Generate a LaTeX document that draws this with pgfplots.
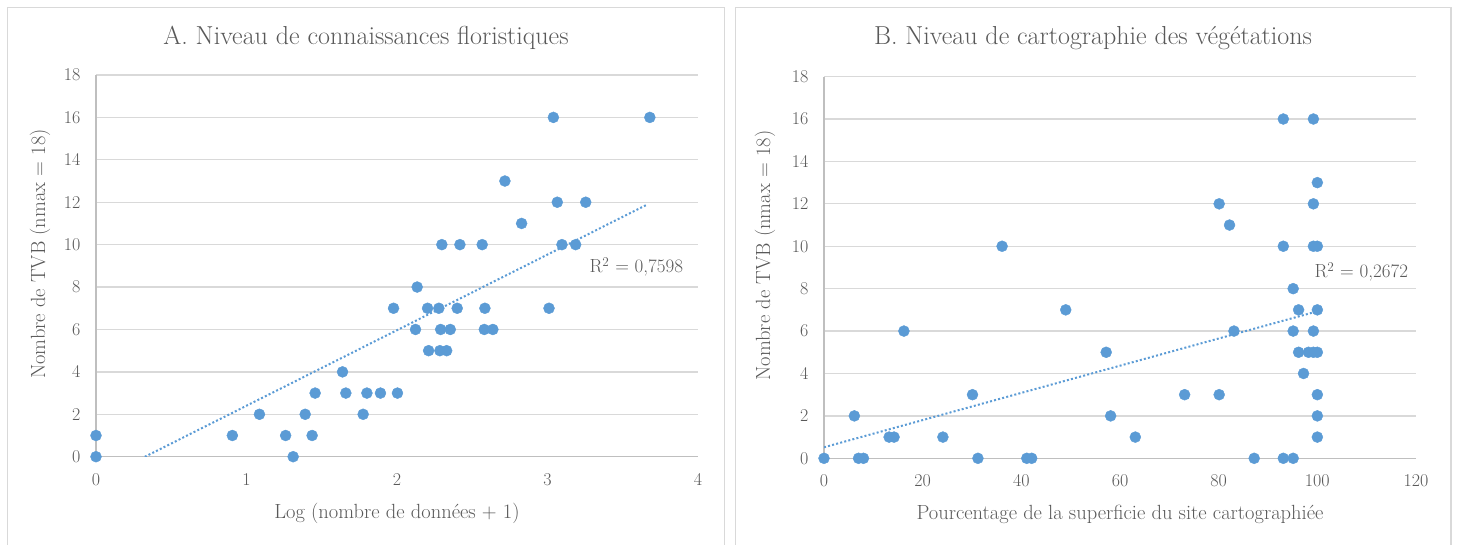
\documentclass[border=0pt]{standalone}
\usepackage{fontspec}
\usepackage{pgfplots}
\pgfplotsset{compat=1.18}
\definecolor{dotc}{HTML}{5B9BD5}
\definecolor{txt}{HTML}{595959}
\definecolor{gridc}{HTML}{D9D9D9}
\definecolor{axc}{HTML}{BFBFBF}
\definecolor{boxc}{HTML}{D9D9D9}
\pgfplotsset{
  panel/.style={
    scale only axis,
    anchor=origin,
    ymin=0, ymax=18, ytick={0,2,...,18},
    axis lines*=left,
    axis line style={axc, line width=1.5pt, -},
    major tick length=0pt,
    ymajorgrids, grid style={gridc, line width=1.3pt},
    tick label style={txt, font=\fontsize{18}{21}\selectfont},
    yticklabel style={xshift=-12pt},
    xticklabel style={yshift=-13pt},
    label style={txt, font=\fontsize{20.5}{24}\selectfont},
    /pgf/number format/use comma,
    /pgf/number format/assume math mode=true,
    clip marker paths=false,
  },
  pts/.style={only marks, mark=*, mark size=5.5pt, mark options={fill=dotc, draw=dotc}},
  trend/.style={no marks, dotc, line width=2pt, dash pattern=on 2pt off 2.2pt},
}
\begin{document}
\begin{tikzpicture}
\path[use as bounding box] (0pt,0pt) rectangle (1458pt,544pt);
\draw[boxc, line width=1.5pt] (7.5pt,-5pt) -- (7.5pt,536.5pt) -- (724.5pt,536.5pt) -- (724.5pt,-5pt);
\draw[boxc, line width=1.5pt] (735.5pt,-5pt) -- (735.5pt,536.5pt) -- (1451pt,536.5pt) -- (1451pt,-5pt);
\node[txt, font=\fontsize{26}{30}\selectfont] at (366pt,506pt) {A. Niveau de connaissances floristiques};
\node[txt, font=\fontsize{26}{30}\selectfont] at (1093pt,506pt) {B. Niveau de cartographie des végétations};

\begin{axis}[panel, at={(96pt,87.3pt)}, width=602pt, height=381.7pt,
  xmin=0, xmax=4, xtick={0,1,2,3,4},
  xlabel={Log (nombre de données + 1)},
  ylabel={Nombre de TVB (nmax = 18)},
  xlabel style={at={(axis description cs:0.5,-0.149)}, anchor=center},
  ylabel style={at={(axis description cs:-0.093,0.531)}, anchor=center}]
\addplot[pts] coordinates {
(0,1) (0,0) (0.906,1) (1.086,2) (1.26,1) (1.31,0) (1.39,2) (1.436,1) (1.456,3)
(1.638,4) (1.66,3) (1.775,2) (1.80,3) (1.89,3) (1.977,7) (2.003,3) (2.134,8)
(2.123,6) (2.203,7) (2.21,5) (2.278,7) (2.285,5) (2.33,5) (2.29,6) (2.354,6)
(2.298,10) (2.40,7) (2.418,10) (2.566,10) (2.584,7) (2.58,6) (2.637,6)
(2.717,13) (2.828,11) (3.01,7) (3.039,16) (3.065,12) (3.096,10) (3.187,10)
(3.254,12) (3.68,16)
};
\addplot[trend] coordinates {(0,-1.16) (3.665,11.9)};
\node[txt, font=\fontsize{19}{22}\selectfont] at (axis cs:3.59,8.95) {R\textsuperscript{2} = 0,7598};
\end{axis}

\begin{axis}[panel, at={(824pt,85.7pt)}, width=592pt, height=381.7pt,
  xmin=0, xmax=120, xtick={0,20,...,120},
  xlabel={Pourcentage de la superficie du site cartographiée},
  ylabel={Nombre de TVB (nmax = 18)},
  xlabel style={at={(axis description cs:0.5,-0.146)}, anchor=center},
  ylabel style={at={(axis description cs:-0.0997,0.531)}, anchor=center}]
\addplot[pts] coordinates {
(0,0) (6.15,2) (7,0) (8,0) (13.2,1) (14.2,1) (16.2,6) (24.1,1) (30.1,3) (31.2,0)
(36.1,10) (41.1,0) (42.1,0) (49,7) (57.2,5) (58.1,2) (63.1,1) (73.1,3) (80.1,3)
(80.1,12) (82.2,11) (83.1,6) (87.2,0) (93.1,16) (93.1,10) (93.1,0) (95.1,0)
(95.1,8) (95.1,6) (96.2,7) (96.2,5) (97.2,4) (98.2,5) (99.2,5) (100,5) (99.2,16)
(100,13) (99.2,12) (99.2,10) (100,10) (99.2,6) (100,7) (100,3) (100,2) (100,1)
};
\addplot[trend] coordinates {(0,0.52) (99.5,6.9)};
\node[txt, font=\fontsize{19}{22}\selectfont] at (axis cs:108.9,8.79) {R\textsuperscript{2} = 0,2672};
\end{axis}
\end{tikzpicture}
\end{document}
